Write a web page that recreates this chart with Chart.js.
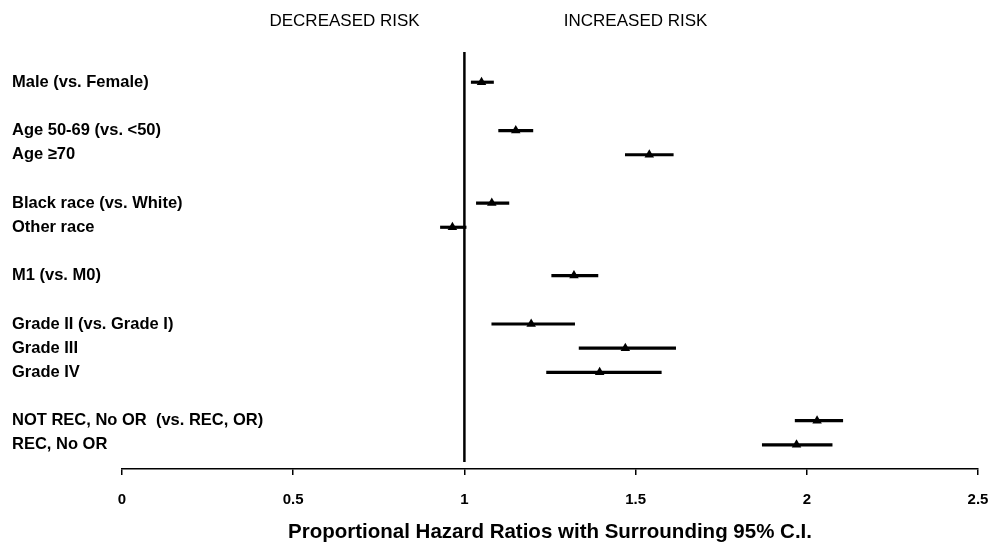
<!DOCTYPE html>
<html>
<head>
<meta charset="utf-8">
<script src="https://cdn.jsdelivr.net/npm/chart.js@4/dist/chart.umd.min.js"></script>
<style>
  html, body { margin: 0; padding: 0; background: #fff; }
  #wrap { position: relative; width: 1005px; height: 548px; }
</style>
</head>
<body>
<div id="wrap"><canvas id="chart"></canvas></div>
<script>
// rows of the forest plot, empty strings are the gaps between groups
const categories = [
    'Male (vs. Female)',
    '',
    'Age 50-69 (vs. <50)',
    'Age \u226570',
    '',
    'Black race (vs. White)',
    'Other race',
    '',
    'M1 (vs. M0)',
    '',
    'Grade II (vs. Grade I)',
    'Grade III',
    'Grade IV',
    '',
    'NOT REC, No OR  (vs. REC, OR)',
    'REC, No OR'
];
const hazardRatio = [1.05, null, 1.15, 1.54, null, 1.08, 0.965, null, 1.32, null, 1.195, 1.47, 1.395, null, 2.03, 1.97];
const ciLower     = [1.02, null, 1.10, 1.47, null, 1.035, 0.93, null, 1.255, null, 1.08, 1.335, 1.24, null, 1.966, 1.87];
const ciUpper     = [1.085, null, 1.20, 1.61, null, 1.13, 1.005, null, 1.39, null, 1.322, 1.617, 1.575, null, 2.105, 2.074];

const xTicks = [0, 0.5, 1, 1.5, 2, 2.5];
const riskLabels = ['DECREASED RISK', 'INCREASED RISK'];
const riskLabelAt = [0.65, 1.5];
const referenceValue = 1;

const rows = categories.map((c, i) => i).filter(i => categories[i] !== '');

// vertical line at HR = 1
const refLine = {
    id: 'refLine',
    beforeDatasetsDraw(chart) {
        const { ctx, chartArea, scales } = chart;
        const x = scales.x.getPixelForValue(referenceValue);
        ctx.save();
        ctx.strokeStyle = '#000';
        ctx.lineWidth = 2.5;
        ctx.beginPath();
        ctx.moveTo(x, chartArea.top);
        ctx.lineTo(x, chartArea.bottom - 7);
        ctx.stroke();
        ctx.restore();
    }
};

const boldFont = { family: 'Liberation Sans, Arial, sans-serif', weight: 'bold' };

new Chart(document.getElementById('chart'), {
    type: 'bar',
    data: {
        datasets: [
            {
                type: 'scatter',
                label: 'Hazard ratio',
                data: rows.map(i => ({ x: hazardRatio[i], y: i })),
                pointStyle: 'triangle',
                pointRadius: 5.5,
                backgroundColor: '#000',
                borderColor: '#000',
                borderWidth: 0
            },
            {
                type: 'bar',
                label: '95% C.I.',
                indexAxis: 'y',
                data: rows.map(i => ({ x: [ciLower[i], ciUpper[i]], y: i })),
                backgroundColor: '#000',
                barThickness: 2.5,
                borderWidth: 0
            }
        ]
    },
    options: {
        responsive: true,
        maintainAspectRatio: false,
        animation: false,
        events: [],
        layout: { padding: { left: 12, right: 27, top: 0, bottom: 0 } },
        plugins: {
            legend: { display: false },
            tooltip: { enabled: false }
        },
        scales: {
            x: {
                type: 'linear',
                position: 'bottom',
                offset: false,
                min: 0,
                max: 2.5,
                afterBuildTicks: s => { s.ticks = xTicks.map(v => ({ value: v })); },
                afterFit: s => { s.height = 79; },
                border: { color: '#000', width: 1.5 },
                grid: { offset: false, drawOnChartArea: false, drawTicks: true, tickLength: 6, color: '#000', lineWidth: 1.5 },
                ticks: {
                    color: '#000',
                    padding: 16,
                    font: { ...boldFont, size: 15 },
                    callback: v => String(v)
                },
                title: {
                    display: true,
                    text: 'Proportional Hazard Ratios with Surrounding 95% C.I.',
                    color: '#000',
                    font: { ...boldFont, size: 20.5 },
                    padding: { top: 4, bottom: 3 }
                }
            },
            xTop: {
                type: 'linear',
                position: 'top',
                offset: false,
                min: 0,
                max: 2.5,
                afterBuildTicks: s => { s.ticks = riskLabelAt.map(v => ({ value: v })); },
                afterFit: s => { s.height = 52; },
                border: { display: false },
                grid: { offset: false, display: false, drawTicks: false },
                ticks: {
                    color: '#000',
                    padding: 20,
                    font: { family: 'Liberation Sans, Arial, sans-serif', size: 17 },
                    callback: (v, i) => riskLabels[i]
                }
            },
            y: {
                type: 'linear',
                position: 'left',
                offset: false,
                reverse: true,
                min: -1.25,
                max: 16,
                afterBuildTicks: s => { s.ticks = rows.map(i => ({ value: i })); },
                afterFit: s => { s.width = 110; },
                border: { display: false },
                grid: { offset: false, display: false, drawTicks: false },
                ticks: {
                    color: '#000',
                    mirror: true,
                    crossAlign: 'near',
                    padding: -110,
                    font: { ...boldFont, size: 16.5 },
                    callback: v => categories[v]
                }
            }
        }
    },
    plugins: [refLine]
});
</script>
</body>
</html>
